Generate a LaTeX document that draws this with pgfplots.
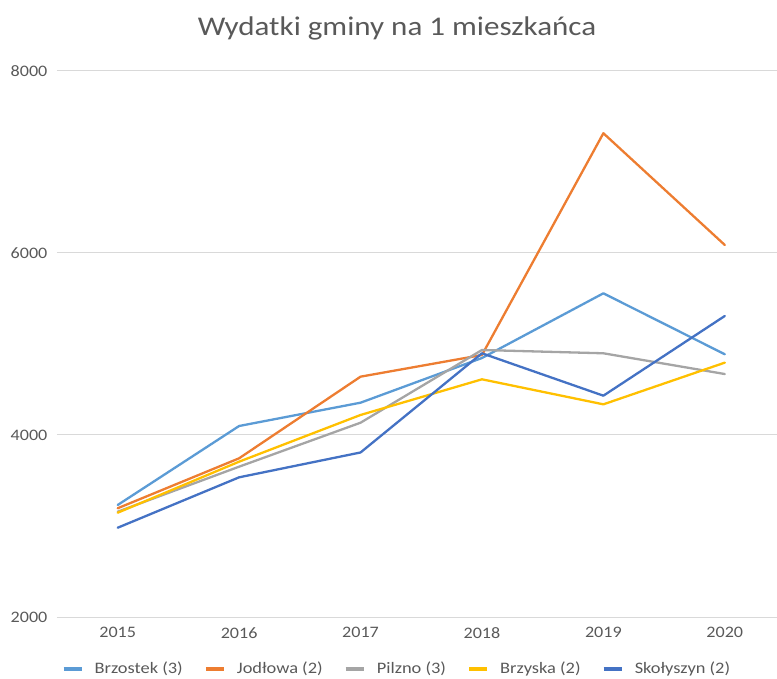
\documentclass[border=0pt]{standalone}
\usepackage{fontspec}
\setmainfont{Carlito}
\usepackage{pgfplots}
\pgfplotsset{compat=1.18}
\definecolor{txtgray}{HTML}{595959}
\definecolor{gridgray}{HTML}{D9D9D9}
\definecolor{cBrzostek}{HTML}{5B9BD5}
\definecolor{cJodlowa}{HTML}{ED7D31}
\definecolor{cPilzno}{HTML}{A5A5A5}
\definecolor{cBrzyska}{HTML}{FFC000}
\definecolor{cSkolyszyn}{HTML}{4472C4}
\newcommand{\legtxt}[1]{\scalebox{1.15}[1]{#1}}

\begin{document}
\begin{tikzpicture}
\useasboundingbox (-57bp,-62bp) rectangle (720bp,617bp);
\begin{axis}[
  scale only axis, width=720bp, height=546bp,
  xmin=2014.5, xmax=2020.43, ymin=2000, ymax=8000,
  xtick={2015,2016,2017,2018,2019,2020},
  ytick={2000,4000,6000,8000},
  axis line style={draw=none}, major tick style={draw=none},
  ymajorgrids, grid style={gridgray, line width=1bp},
  /pgf/number format/1000 sep={},
  /pgf/number format/assume math mode=true,
  ticklabel style={font=\fontsize{16bp}{18bp}\selectfont, text=txtgray, xscale=1.13},
  yticklabel style={xshift=-5bp},
  xticklabel style={yshift=-7bp},
  every axis plot/.append style={line width=2.3bp, line join=round, line cap=round},
  legend columns=5,
  legend style={at={(0.472,-0.095)}, anchor=center, draw=none, fill=none,
    font=\fontsize{16bp}{17bp}\selectfont, text=txtgray,
    /tikz/every even column/.append style={column sep=19bp}},
  legend image code/.code={\draw[#1, line cap=butt, line width=4bp] (0bp,0bp) -- (18bp,0bp);
    \path (28bp,0bp);},
]
\addplot[cBrzostek] coordinates {
  (2015,3231) (2016,4099) (2017,4355) (2018,4846) (2019,5557) (2020,4887)};
\addlegendentry{\legtxt{Brzostek (3)}}
\addplot[cJodlowa] coordinates {
  (2015,3195) (2016,3744) (2017,4641) (2018,4879) (2019,7316) (2020,6088)};
\addlegendentry{\legtxt{Jodłowa (2)}}
\addplot[cPilzno] coordinates {
  (2015,3157) (2016,3652) (2017,4135) (2018,4934) (2019,4898) (2020,4670)};
\addlegendentry{\legtxt{Pilzno (3)}}
\addplot[cBrzyska] coordinates {
  (2015,3146) (2016,3707) (2017,4220) (2018,4612) (2019,4337) (2020,4795)};
\addlegendentry{\legtxt{Brzyska (2)}}
\addplot[cSkolyszyn] coordinates {
  (2015,2981) (2016,3535) (2017,3808) (2018,4898) (2019,4432) (2020,5308)};
\addlegendentry{\legtxt{Skołyszyn (2)}}
\end{axis}
\node[text=txtgray, font=\fontsize{27bp}{30bp}\selectfont, xscale=1.15] at (340bp,589bp) {Wydatki gminy na 1 mieszkańca};
\end{tikzpicture}
\end{document}
